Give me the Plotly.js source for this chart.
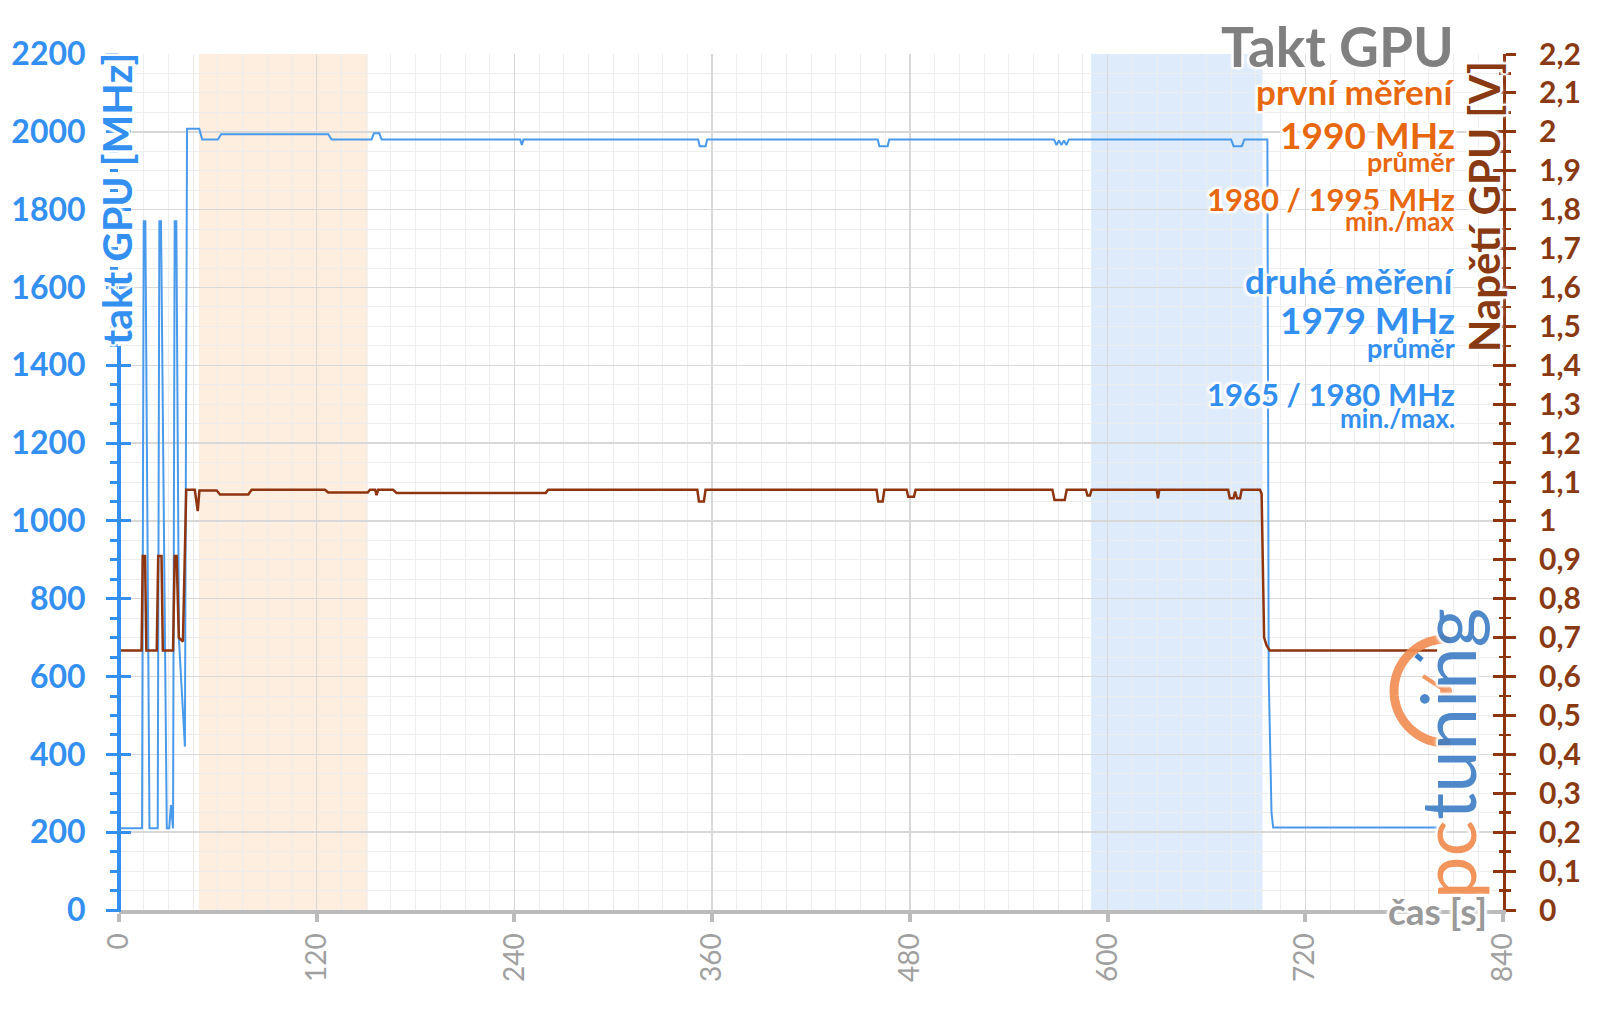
<!DOCTYPE html>
<html>
<head>
<meta charset="utf-8">
<script src="https://cdn.plot.ly/plotly-3.0.1.min.js"></script>
<style>html,body{margin:0;padding:0;background:#fff;}#chart{width:1600px;height:1009px;}</style>
</head>
<body>
<div id="chart"></div>
<script>
// ---- data ----
const timeMHz = [0,14,15,16,18.5,23.5,24.5,25.5,29,30.5,31.5,32.8,33.8,34.8,36.4,40,41.3,48.7,50.5,60,62,127,129,153.3,154.7,158,159.4,243.5,244.5,245.5,351.5,352.5,356,357,460.5,461.5,466.5,467.5,567.5,569,570.5,572,573.5,575,576.5,675,676.5,681.5,683,697,697.8,699.5,700.5,800];
const clockMHz = [210,210,1770,1770,210,210,1770,1770,210,210,270,210,1770,1770,694,420,2008,2008,1980,1980,1994,1994,1980,1980,1996,1996,1980,1980,1966,1980,1980,1963,1963,1980,1980,1963,1963,1980,1980,1966,1978,1966,1978,1966,1980,1980,1963,1963,1980,1980,600,250,212,212];

const timeV = [0,13.7,14.4,15.8,16.6,22.9,23.8,25.8,26.6,32.8,33.8,35,36.3,38.8,40.8,46,47.8,48.8,59.3,61.3,78.5,80.5,125,127,151,152.3,155.5,156.3,157.3,166.3,168.5,259,260.5,351,352,355,356,459.8,460.8,463.5,464.5,478,479,482.5,483.5,566.5,567.8,574,575.2,586.8,587.8,589.3,590.3,629.8,630.6,631.4,673.2,674.2,676.4,677.4,678.6,680.4,681.4,692.5,693.5,695,696.5,698.4,800];
const voltV = [0.667,0.667,0.91,0.91,0.667,0.667,0.91,0.91,0.667,0.667,0.91,0.91,0.70,0.69,1.08,1.08,1.025,1.078,1.078,1.068,1.068,1.08,1.08,1.073,1.073,1.08,1.08,1.066,1.08,1.08,1.072,1.072,1.08,1.08,1.05,1.05,1.08,1.08,1.05,1.05,1.08,1.08,1.062,1.062,1.08,1.08,1.054,1.054,1.08,1.08,1.065,1.065,1.08,1.08,1.058,1.08,1.08,1.058,1.058,1.075,1.058,1.058,1.08,1.08,1.07,0.70,0.68,0.667,0.667];

const windowFirst = [48.5, 151];   // první měření
const windowSecond = [590, 694];   // druhé měření

const ticksX = [0,120,240,360,480,600,720,840];
const labelsX = ['0','120','240','360','480','600','720','840'];
const ticksMHz = [0,200,400,600,800,1000,1200,1400,1600,1800,2000,2200];
const labelsMHz = ['0','200','400','600','800','1000','1200','1400','1600','1800','2000','2200'];
const ticksV = [0,0.1,0.2,0.3,0.4,0.5,0.6,0.7,0.8,0.9,1,1.1,1.2,1.3,1.4,1.5,1.6,1.7,1.8,1.9,2,2.1,2.2];
const labelsV = ['0','0,1','0,2','0,3','0,4','0,5','0,6','0,7','0,8','0,9','1','1,1','1,2','1,3','1,4','1,5','1,6','1,7','1,8','1,9','2','2,1','2,2'];

// ---- styling ----
const BLUE = '#3390F0', BLUE_LINE = '#4A9AEC', BROWN = '#8E3510', BROWN_TXT = '#8A3A12', ORANGE = '#E8680F', GRAY = '#808080';
const FONT = 'Lato, "Open Sans", sans-serif';
const W = 1600, H = 1009, ML = 119, MR = 97, MT = 54, MB = 99;
const PW = W - ML - MR, PH = H - MT - MB;
const px = v => (v - ML) / PW;
const py = v => (H - MB - v) / PH;
const GLOW = '2px 0 1px #fff, -2px 0 1px #fff, 0 2px 1px #fff, 0 -2px 1px #fff, 2px 2px 2px #fff, -2px -2px 2px #fff, 2px -2px 2px #fff, -2px 2px 2px #fff, 0 0 6px #fff';

const traces = [
  {x: timeMHz, y: clockMHz, type: 'scatter', mode: 'lines', line: {color: BLUE_LINE, width: 2}, yaxis: 'y', hoverinfo: 'skip', showlegend: false},
  {x: timeV, y: voltV, type: 'scatter', mode: 'lines', line: {color: BROWN, width: 2.5}, yaxis: 'y2', hoverinfo: 'skip', showlegend: false},
  {x: [null], y: [null], type: 'scatter', yaxis: 'y3', showlegend: false, hoverinfo: 'skip'},
  {x: [null], y: [null], type: 'scatter', yaxis: 'y4', showlegend: false, hoverinfo: 'skip'}
];

function ann(text, xPx, yPx, size, color, weight, extra) {
  return Object.assign({
    text: text, xref: 'paper', yref: 'paper', x: px(xPx), y: py(yPx),
    xanchor: 'right', yanchor: 'middle', showarrow: false,
    font: {family: FONT, size: size, color: color, weight: weight, shadow: GLOW}
  }, extra || {});
}

// logo arc (decoration) in pixels relative to anchor
let arc = '';
for (let a = 85; a <= 275; a += 5) {
  const r = 52, t = a * Math.PI / 180;
  arc += (a === 85 ? 'M' : 'L') + (r * Math.cos(t)).toFixed(1) + ',' + (r * Math.sin(t)).toFixed(1) + ' ';
}
const LX = 1446, LY = 691;

const layout = {
  width: W, height: H,
  margin: {l: ML, r: MR, t: MT, b: MB},
  paper_bgcolor: '#fff', plot_bgcolor: '#fff',
  showlegend: false,
  xaxis: {
    range: [0, 840], tickmode: 'array', tickvals: ticksX, ticktext: labelsX, tickangle: -90,
    tickfont: {family: FONT, size: 28, color: '#A0A0A0'},
    ticks: 'outside', ticklen: 8, tickwidth: 4, tickcolor: '#BBBBBB',
    showline: true, linecolor: '#BBBBBB', linewidth: 4,
    showgrid: true, gridcolor: '#D8D8D8', gridwidth: 1.5, zeroline: false,
    minor: {dtick: 15, tick0: 0, showgrid: true, gridcolor: '#EDEDED', gridwidth: 1, ticks: ''},
    ticklabelstandoff: 0, fixedrange: true
  },
  yaxis: {
    range: [0, 2200], tickmode: 'array', tickvals: ticksMHz, ticktext: labelsMHz,
    tickfont: {family: FONT, size: 32, color: BLUE, weight: 700},
    ticks: 'outside', ticklen: 12, tickwidth: 3, tickcolor: BLUE,
    showline: false,
    showgrid: true, gridcolor: '#D8D8D8', gridwidth: 1.5, zeroline: false,
    minor: {dtick: 50, tick0: 0, ticks: 'outside', ticklen: 8, tickwidth: 3, tickcolor: BLUE, showgrid: true, gridcolor: '#EDEDED', gridwidth: 1},
    ticklabelstandoff: 14, fixedrange: true
  },
  yaxis2: {
    overlaying: 'y', side: 'right', anchor: 'x',
    range: [0, 2.2], tickmode: 'array', tickvals: ticksV, ticktext: labelsV,
    tickfont: {family: FONT, size: 30, color: BROWN_TXT, weight: 700},
    ticks: 'outside', ticklen: 10, tickwidth: 3, tickcolor: BROWN,
    showline: true, linecolor: BROWN, linewidth: 3,
    showgrid: false, zeroline: false,
    minor: {dtick: 0.05, tick0: 0, ticks: 'outside', ticklen: 5, tickwidth: 2.5, tickcolor: BROWN, showgrid: false},
    ticklabelstandoff: 17, fixedrange: true
  },
  yaxis3: {
    overlaying: 'y', side: 'left', anchor: 'x', range: [0, 2200],
    tickmode: 'array', tickvals: ticksMHz, ticks: 'inside', ticklen: 12, tickwidth: 3, tickcolor: BLUE,
    showticklabels: false, showgrid: false, showline: false, zeroline: false, fixedrange: true
  },
  yaxis4: {
    overlaying: 'y', side: 'right', anchor: 'x', range: [0, 2.2],
    tickmode: 'array', tickvals: ticksV, ticks: 'inside', ticklen: 10, tickwidth: 3, tickcolor: BROWN,
    minor: {dtick: 0.05, tick0: 0, ticks: 'inside', ticklen: 4, tickwidth: 2.5, tickcolor: BROWN},
    showticklabels: false, showgrid: false, showline: false, zeroline: false, fixedrange: true
  },
  shapes: [
    {type: 'rect', xref: 'x', yref: 'paper', x0: windowFirst[0], x1: windowFirst[1], y0: 0, y1: 1, fillcolor: '#FDEEDF', line: {width: 0}, layer: 'below'},
    {type: 'rect', xref: 'x', yref: 'paper', x0: windowSecond[0], x1: windowSecond[1], y0: 0, y1: 1, fillcolor: '#DDEBFB', line: {width: 0}, layer: 'below'},
    // left axis line, hidden behind the axis title as in the original
    {type: 'line', xref: 'paper', yref: 'paper', x0: 0, x1: 0, y0: py(912), y1: py(346), line: {color: BLUE, width: 4}, layer: 'above'},
    {type: 'line', xref: 'paper', yref: 'paper', x0: 0, x1: 0, y0: py(57), y1: 1, line: {color: BLUE, width: 4}, layer: 'above'},
    {type: 'path', xref: 'paper', yref: 'paper', xsizemode: 'pixel', ysizemode: 'pixel', xanchor: px(LX), yanchor: py(LY), path: arc, line: {color: '#F28C52', width: 9}, layer: 'above', opacity: 0.9},
    {type: 'path', xref: 'paper', yref: 'paper', xsizemode: 'pixel', ysizemode: 'pixel', xanchor: px(LX), yanchor: py(LY), path: 'M0,0 L-23,15', line: {color: '#F28C52', width: 4}, layer: 'above', opacity: 0.9},
    {type: 'circle', xref: 'paper', yref: 'paper', xsizemode: 'pixel', ysizemode: 'pixel', xanchor: px(LX), yanchor: py(LY), x0: -6, x1: 6, y0: -6, y1: 6, fillcolor: '#F28C52', line: {width: 0}, layer: 'above', opacity: 0.9},
    {type: 'path', xref: 'paper', yref: 'paper', xsizemode: 'pixel', ysizemode: 'pixel', xanchor: px(LX), yanchor: py(LY), path: 'M-30,36 L-24,31', line: {color: '#3C7DC4', width: 5}, layer: 'above'}
  ],
  annotations: [
    ann('Takt GPU', 1456, 46, 55, GRAY, 700),
    ann('první měření', 1457, 91, 35, ORANGE, 700),
    ann('1990 MHz', 1457, 134, 37, ORANGE, 700),
    ann('průměr', 1457, 161, 27, ORANGE, 700),
    ann('1980 / 1995 MHz', 1457, 199, 31, ORANGE, 700),
    ann('min./max', 1457, 221, 26, ORANGE, 700),
    ann('druhé měření', 1457, 280, 35, BLUE, 700),
    ann('1979 MHz', 1457, 320, 37, BLUE, 700),
    ann('průměr', 1457, 347, 27, BLUE, 700),
    ann('1965 / 1980 MHz', 1457, 394, 31, BLUE, 700),
    ann('min./max.', 1457, 418, 26, BLUE, 700),
    ann('takt GPU [MHz]', 117, 199, 41, BLUE, 700, {xanchor: 'center', textangle: -90}),
    ann('Napětí GPU [V]', 1484, 207, 42, BROWN_TXT, 700, {xanchor: 'center', textangle: -90}),
    ann('<span style="color:#F08A4B">pc</span><span style="color:#3C7DC4">tuning</span>', 1446, 754, 76, '#3C7DC4', 400, {xanchor: 'center', textangle: -90, opacity: 0.9}),
    ann('čas [s]', 1489, 910, 37, '#999999', 700)
  ]
};

Plotly.newPlot('chart', traces, layout, {staticPlot: true, displayModeBar: false});
</script>
</body>
</html>
